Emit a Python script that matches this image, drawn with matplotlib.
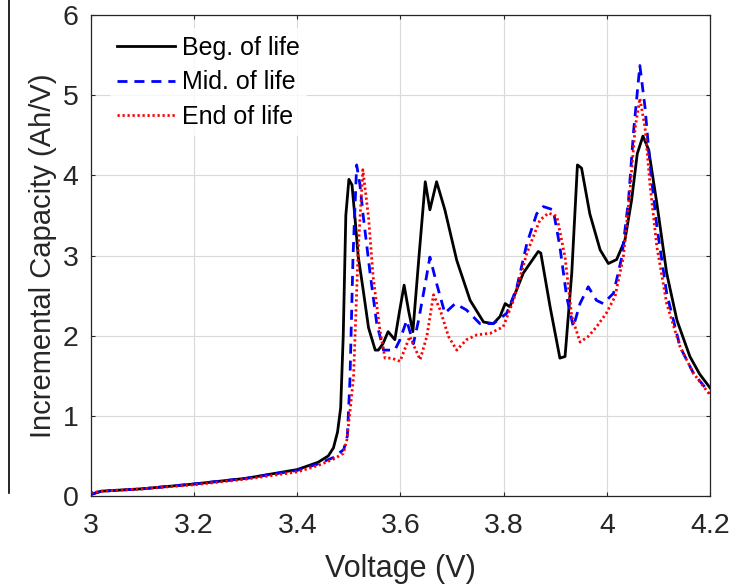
import matplotlib
matplotlib.use("Agg")
import matplotlib.pyplot as plt
from matplotlib.lines import Line2D

# incremental capacity curves
v_beg = [3.00, 3.02, 3.10, 3.20, 3.30, 3.40, 3.44, 3.46, 3.47, 3.478,
         3.484, 3.489, 3.494, 3.500, 3.506, 3.512, 3.518, 3.527, 3.538, 3.551,
         3.557, 3.566, 3.576, 3.589, 3.598, 3.607, 3.616, 3.624, 3.636, 3.648,
         3.657, 3.670, 3.686, 3.709, 3.735, 3.761, 3.780, 3.793, 3.803, 3.812,
         3.838, 3.867, 3.872, 3.890, 3.909, 3.919, 3.932, 3.943, 3.951, 3.967,
         3.987, 4.003, 4.019, 4.035, 4.048, 4.059, 4.070, 4.081, 4.097, 4.116,
         4.136, 4.161, 4.180, 4.200]
ic_beg = [0.02, 0.06, 0.09, 0.15, 0.22, 0.33, 0.42, 0.50, 0.60, 0.80,
          1.10, 2.00, 3.50, 3.95, 3.88, 3.45, 2.99, 2.60, 2.10, 1.82,
          1.82, 1.90, 2.05, 1.95, 2.30, 2.63, 2.30, 2.05, 3.00, 3.92,
          3.57, 3.92, 3.57, 2.94, 2.44, 2.17, 2.15, 2.24, 2.40, 2.36,
          2.78, 3.05, 3.03, 2.36, 1.72, 1.74, 2.78, 4.13, 4.09, 3.52,
          3.07, 2.90, 2.95, 3.19, 3.69, 4.27, 4.49, 4.32, 3.65, 2.78,
          2.19, 1.74, 1.52, 1.35]

v_mid = [3.00, 3.02, 3.10, 3.20, 3.30, 3.40, 3.44, 3.47, 3.490, 3.497,
         3.502, 3.508, 3.515, 3.521, 3.528, 3.541, 3.554, 3.567, 3.589, 3.599,
         3.612, 3.625, 3.635, 3.648, 3.657, 3.670, 3.686, 3.706, 3.728, 3.754,
         3.780, 3.806, 3.825, 3.845, 3.864, 3.877, 3.896, 3.909, 3.922, 3.935,
         3.948, 3.964, 3.980, 3.993, 4.013, 4.029, 4.042, 4.052, 4.064, 4.074,
         4.084, 4.097, 4.116, 4.142, 4.168, 4.200]
ic_mid = [0.02, 0.06, 0.09, 0.15, 0.22, 0.32, 0.40, 0.48, 0.58, 0.75,
          1.45, 3.00, 4.13, 3.90, 3.48, 2.78, 2.15, 1.82, 1.82, 1.95,
          2.19, 1.90, 2.19, 2.65, 2.98, 2.65, 2.28, 2.40, 2.32, 2.15,
          2.15, 2.28, 2.59, 3.15, 3.52, 3.61, 3.57, 3.11, 2.49, 2.11,
          2.40, 2.61, 2.44, 2.40, 2.53, 2.98, 3.69, 4.56, 5.37, 4.85,
          4.11, 3.36, 2.53, 1.86, 1.53, 1.28]

v_end = [3.00, 3.02, 3.10, 3.20, 3.30, 3.40, 3.44, 3.47, 3.489, 3.496,
         3.502, 3.509, 3.518, 3.527, 3.538, 3.547, 3.560, 3.570, 3.583, 3.599,
         3.618, 3.638, 3.651, 3.664, 3.677, 3.693, 3.709, 3.728, 3.748, 3.774,
         3.799, 3.819, 3.845, 3.870, 3.887, 3.903, 3.919, 3.932, 3.948, 3.964,
         3.980, 3.999, 4.016, 4.032, 4.045, 4.055, 4.064, 4.074, 4.084, 4.097,
         4.116, 4.142, 4.168, 4.200]
ic_end = [0.04, 0.06, 0.09, 0.14, 0.21, 0.30, 0.38, 0.46, 0.53, 0.70,
          1.05, 1.49, 3.07, 4.07, 3.48, 2.73, 2.07, 1.72, 1.72, 1.68,
          1.99, 1.70, 1.99, 2.51, 2.32, 1.99, 1.82, 1.95, 2.01, 2.03,
          2.11, 2.44, 3.03, 3.44, 3.53, 3.49, 2.98, 2.24, 1.92, 1.99,
          2.11, 2.28, 2.49, 2.98, 3.82, 4.60, 4.96, 4.60, 3.86, 3.11,
          2.40, 1.86, 1.53, 1.26]

labels = ["Beg. of life", "Mid. of life", "End of life"]
xticks = [3, 3.2, 3.4, 3.6, 3.8, 4, 4.2]
xticklabels = ["3", "3.2", "3.4", "3.6", "3.8", "4", "4.2"]
yticks = [0, 1, 2, 3, 4, 5, 6]

plt.rcParams['font.family'] = ['Liberation Sans', 'DejaVu Sans']
txt = '#262626'

fig = plt.figure(figsize=(7.37, 5.85), dpi=100)
ax = fig.add_axes([91 / 737, 89 / 585, 619 / 737, 481 / 585])

ax.plot(v_beg, ic_beg, color='black', lw=2.0, label=labels[0])
ax.plot(v_mid, ic_mid, color='blue', lw=2.0, ls=(0, (3.6, 2.5)), label=labels[1])
ax.plot(v_end, ic_end, color='red', lw=2.0, ls=(0, (0.8, 1.0)), label=labels[2])

ax.set_xlim(3, 4.2)
ax.set_ylim(0, 6)
ax.set_xticks(xticks)
ax.set_xticklabels(xticklabels)
ax.set_yticks(yticks)
ax.grid(True, color='#d9d9d9', lw=0.8)
ax.set_axisbelow(True)
ax.tick_params(direction='in', length=3, width=0.8, colors=txt, labelsize=20.5,
               top=True, right=True)
ax.tick_params(axis='x', pad=12)
ax.tick_params(axis='y', pad=9)
for s in ax.spines.values():
    s.set_color(txt)
    s.set_linewidth(0.9)

ax.set_xlabel("Voltage (V)", fontsize=22, color=txt, labelpad=11)
ax.set_ylabel("Incremental Capacity (Ah/V)", fontsize=21, color=txt, labelpad=4)

leg = ax.legend(loc='upper left', bbox_to_anchor=(0.03, 0.972), fontsize=18,
                frameon=True, fancybox=False, handlelength=2.3,
                handletextpad=0.28, labelspacing=0.42, borderpad=0.3,
                borderaxespad=0)
leg.get_frame().set_facecolor('white')
leg.get_frame().set_edgecolor('none')
for t in leg.get_texts():
    t.set_color('black')

# stray edge line at the left of the cropped picture
fig.add_artist(Line2D([9 / 737, 9 / 737], [1 - 493 / 585, 1.0],
                      color='black', lw=1.2))

fig.savefig("out.png", dpi=100)
